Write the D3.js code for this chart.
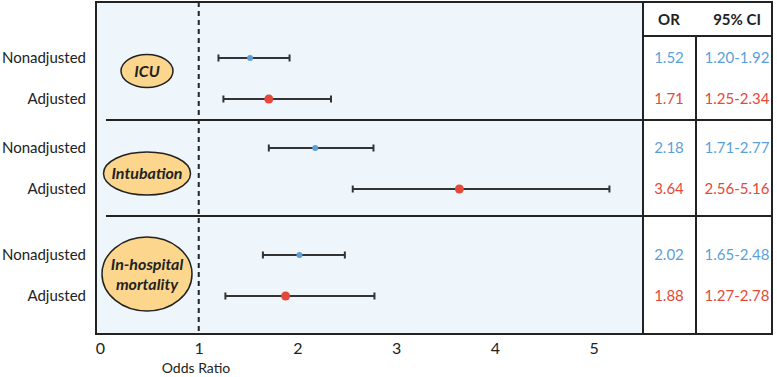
<!DOCTYPE html>
<html>
<head>
<meta charset="utf-8">
<script src="https://cdn.jsdelivr.net/npm/d3@7"></script>
<style>
  body { margin: 0; background: #fff; }
  text { font-family: Lato, sans-serif; }
</style>
</head>
<body>
<div id="chart"></div>
<script>
// data
const outcomes = ["ICU", "Intubation", "In-hospital mortality"];
const outcomeLines = [["ICU"], ["Intubation"], ["In-hospital", "mortality"]];
const models = ["Nonadjusted", "Adjusted"];
const orValues = [[1.52, 1.71], [2.18, 3.64], [2.02, 1.88]];
const ciLow = [[1.20, 1.25], [1.71, 2.56], [1.65, 1.27]];
const ciHigh = [[1.92, 2.34], [2.77, 5.16], [2.48, 2.78]];
const xTicks = [0, 1, 2, 3, 4, 5];
const headers = ["OR", "95% CI"];

const colors = { Nonadjusted: "#5b9fd9", Adjusted: "#e4493a" };

const width = 777, height = 377;
const box = { left: 96, top: 2, right: 772, bottom: 334, plotRight: 643, colDiv: 696, headBottom: 36 };

// flat rows
var rows = [];
outcomes.forEach((o, i) => {
    models.forEach((m, j) => {
        rows.push({ outcome: o, model: m, key: o + "|" + m, or: orValues[i][j], lo: ciLow[i][j], hi: ciHigh[i][j] });
    });
});

var xScale = d3.scaleLinear().domain([0, 5.5]).range([100, box.plotRight]);
var yScale = d3.scaleOrdinal().domain(rows.map(d => d.key)).range([58, 99, 148, 189, 255, 296]);
var sectionScale = d3.scaleOrdinal().domain(outcomes).range([[2, 120], [120, 216], [216, 334]]);
var ellipseScale = d3.scaleOrdinal().domain(outcomes).range([
    { cy: 71, rx: 26, ry: 16.5 }, { cy: 173.5, rx: 43.5, ry: 21.5 }, { cy: 274, rx: 45, ry: 37 }
]);

var svg = d3.select('#chart').append('svg')
    .attr('width', width)
    .attr('height', height);

// panel background
svg.append('rect')
    .attr('x', box.left).attr('y', box.top)
    .attr('width', box.plotRight - box.left).attr('height', box.bottom - box.top)
    .attr('fill', '#eef5fb');

// section separators
svg.selectAll('.sep').data(outcomes.slice(1)).enter().append('line')
    .attr('x1', 106).attr('x2', box.right)
    .attr('y1', d => sectionScale(d)[0]).attr('y2', d => sectionScale(d)[0])
    .attr('stroke', '#222').attr('stroke-width', 2);

// reference line at OR = 1
svg.append('line')
    .attr('x1', xScale(1)).attr('x2', xScale(1))
    .attr('y1', box.top).attr('y2', box.bottom)
    .attr('stroke', '#222').attr('stroke-width', 2)
    .attr('stroke-dasharray', '5,4');

// ellipses
var ell = svg.selectAll('.outcome').data(outcomes).enter().append('g');
ell.append('ellipse')
    .attr('cx', 147)
    .attr('cy', d => ellipseScale(d).cy)
    .attr('rx', d => ellipseScale(d).rx)
    .attr('ry', d => ellipseScale(d).ry)
    .attr('fill', '#fcd68c').attr('stroke', '#222').attr('stroke-width', 1.5);
ell.each(function (d, i) {
    var lines = outcomeLines[i];
    var cy = ellipseScale(d).cy;
    d3.select(this).selectAll('text').data(lines).enter().append('text')
        .attr('x', 147)
        .attr('y', (t, k) => cy + (k - (lines.length - 1) / 2) * 20)
        .attr('dy', '0.35em')
        .attr('text-anchor', 'middle')
        .attr('font-size', 16).attr('font-weight', 'bold').attr('font-style', 'italic')
        .attr('fill', '#222')
        .text(t => t);
});

// error bars
var bars = svg.selectAll('.bar').data(rows).enter().append('g');
bars.append('line')
    .attr('x1', d => xScale(d.lo)).attr('x2', d => xScale(d.hi))
    .attr('y1', d => yScale(d.key)).attr('y2', d => yScale(d.key))
    .attr('stroke', '#333').attr('stroke-width', 2);
bars.append('line')
    .attr('x1', d => xScale(d.lo)).attr('x2', d => xScale(d.lo))
    .attr('y1', d => yScale(d.key) - 3.5).attr('y2', d => yScale(d.key) + 3.5)
    .attr('stroke', '#333').attr('stroke-width', 2);
bars.append('line')
    .attr('x1', d => xScale(d.hi)).attr('x2', d => xScale(d.hi))
    .attr('y1', d => yScale(d.key) - 3.5).attr('y2', d => yScale(d.key) + 3.5)
    .attr('stroke', '#333').attr('stroke-width', 2);
bars.append('circle')
    .attr('cx', d => xScale(d.or)).attr('cy', d => yScale(d.key))
    .attr('r', d => d.model === "Adjusted" ? 4.5 : 3)
    .attr('fill', d => colors[d.model]);

// row labels
svg.selectAll('.rowlab').data(rows).enter().append('text')
    .attr('x', 86).attr('y', d => yScale(d.key)).attr('dy', '0.35em')
    .attr('text-anchor', 'end')
    .attr('font-size', 15).attr('fill', '#222')
    .text(d => d.model);

// table headers
var colX = [669, 737];
svg.selectAll('.head').data(headers).enter().append('text')
    .attr('x', (d, i) => colX[i]).attr('y', 20).attr('dy', '0.35em')
    .attr('text-anchor', 'middle')
    .attr('font-size', 15).attr('font-weight', 'bold').attr('fill', '#222')
    .text(d => d);

// table values
svg.selectAll('.orv').data(rows).enter().append('text')
    .attr('x', colX[0]).attr('y', d => yScale(d.key)).attr('dy', '0.35em')
    .attr('text-anchor', 'middle')
    .attr('font-size', 15).attr('fill', d => colors[d.model])
    .text(d => d.or.toFixed(2));
svg.selectAll('.civ').data(rows).enter().append('text')
    .attr('x', colX[1]).attr('y', d => yScale(d.key)).attr('dy', '0.35em')
    .attr('text-anchor', 'middle')
    .attr('font-size', 15).attr('fill', d => colors[d.model])
    .text(d => d.lo.toFixed(2) + "-" + d.hi.toFixed(2));

// table lines
svg.append('line')
    .attr('x1', box.plotRight).attr('x2', box.right)
    .attr('y1', box.headBottom).attr('y2', box.headBottom)
    .attr('stroke', '#222').attr('stroke-width', 2);
svg.append('line')
    .attr('x1', box.plotRight).attr('x2', box.plotRight)
    .attr('y1', box.top).attr('y2', box.bottom)
    .attr('stroke', '#222').attr('stroke-width', 2);
svg.append('line')
    .attr('x1', box.colDiv).attr('x2', box.colDiv)
    .attr('y1', box.headBottom).attr('y2', box.bottom)
    .attr('stroke', '#222').attr('stroke-width', 2);

// outer border
svg.append('rect')
    .attr('x', box.left).attr('y', box.top)
    .attr('width', box.right - box.left).attr('height', box.bottom - box.top)
    .attr('fill', 'none').attr('stroke', '#222').attr('stroke-width', 2);

// x axis
var xAxis = d3.axisBottom(xScale).tickValues(xTicks).tickSize(0).tickPadding(9).tickFormat(d3.format('d'));
var gx = svg.append('g').attr('transform', 'translate(0,' + box.bottom + ')').call(xAxis);
gx.select('.domain').remove();
gx.selectAll('text').attr('font-size', 16).attr('fill', '#222')
    .style('font-family', 'Lato, sans-serif');

svg.append('text')
    .attr('x', 196).attr('y', 368).attr('dy', '0.35em')
    .attr('text-anchor', 'middle')
    .attr('font-size', 14).attr('fill', '#222')
    .text('Odds Ratio');
</script>
</body>
</html>
